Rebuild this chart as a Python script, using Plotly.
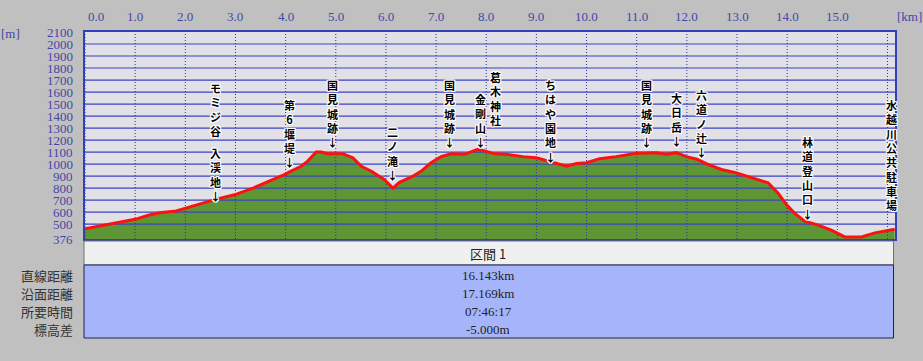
import plotly.graph_objects as go

# ---------------- data ----------------
km = [0.00, 0.20, 0.55, 1.00, 1.28, 1.49, 1.82, 2.02, 2.28, 2.62, 2.98, 3.35, 3.68, 3.94,
      4.08, 4.31, 4.44, 4.61, 4.71, 4.84, 5.14, 5.34, 5.51, 5.71, 5.97, 6.14, 6.27, 6.51,
      6.70, 6.90, 7.10, 7.30, 7.57, 7.83, 7.97, 8.17, 8.40, 8.73, 9.00, 9.23, 9.60, 9.80,
      10.00, 10.26, 10.59, 10.99, 11.39, 11.59, 11.79, 11.99, 12.20, 12.42, 12.69, 12.99,
      13.29, 13.62, 13.82, 13.99, 14.15, 14.35, 14.62, 14.88, 15.15, 15.48, 15.75, 16.01, 16.143]
elev = [462, 478, 506, 540, 576, 595, 609, 632, 666, 708, 744, 800, 856, 905,
        935, 982, 1025, 1100, 1100, 1086, 1086, 1053, 982, 940, 870, 800, 848, 893,
        940, 1011, 1062, 1086, 1081, 1123, 1109, 1085, 1081, 1062, 1053, 1025, 982, 1005,
        1011, 1045, 1062, 1090, 1095, 1081, 1095, 1062, 1040, 997, 955, 927,
        885, 843, 758, 660, 590, 525, 492, 449, 393, 393, 427, 449, 457]

x_ticks = [0, 1, 2, 3, 4, 5, 6, 7, 8, 9, 10, 11, 12, 13, 14, 15]
x_tick_text = ["0.0", "1.0", "2.0", "3.0", "4.0", "5.0", "6.0", "7.0", "8.0", "9.0",
               "10.0", "11.0", "12.0", "13.0", "14.0", "15.0"]
y_ticks = [2100, 2000, 1900, 1800, 1700, 1600, 1500, 1400, 1300, 1200, 1100, 1000,
           900, 800, 700, 600, 500, 376]
y_tick_text = ["2100", "2000", "1900", "1800", "1700", "1600", "1500", "1400", "1300",
               "1200", "1100", "1000", "900", "800", "700", "600", "500", "376"]
grid_y = [500, 600, 700, 800, 900, 1000, 1100, 1200, 1300, 1400, 1500, 1600, 1700,
          1800, 1900, 2000]
grid_x = [0, 1, 2, 3, 4, 5, 6, 7, 8, 9, 10, 11, 12, 13, 14, 15, 16]

wp_names = ["水越川公共駐車場", "モミジ谷 入渓地↓", "第6堰堤↓", "国見城跡↓", "二ノ滝↓",
            "国見城跡↓", "金剛山↓", "葛木神社", "ちはや園地↓", "国見城跡↓", "大日岳↓",
            "六道ノ辻↓", "林道登山口↓", "水越川公共駐車場"]
wp_km = [-0.07, 2.60, 4.08, 4.94, 6.14, 7.27, 7.88, 8.18, 9.29, 11.19, 11.79, 12.29,
         14.41, 16.08]
wp_top = [1492, 1651, 1506, 1674, 1283, 1674, 1557, 1739, 1674, 1674, 1567, 1590,
          1200, 1506]

table_header = "区間 1"
table_labels = ["直線距離", "沿面距離", "所要時間", "標高差"]
table_values = ["16.143km", "17.169km", "07:46:17", "-5.000m"]

X_MAX = 16.15
Y_MIN, Y_MAX = 376, 2100

# ---------------- layout helpers ----------------
W, H = 923, 361
L, R, T, B = 85, 28, 32, 122
PW, PH = W - L - R, H - T - B


def px(xp):
    return (xp - L) / PW


def py(yp):
    return (H - B - yp) / PH


GREEN = "#5e9636"
RED = "#ff1010"
GRID_BLUE = "#3b45c0"
AXIS_BLUE = "#3340b8"
LABEL_BLUE = "#4545a8"
SERIF = "Liberation Serif"
CJK = "Noto Sans CJK JP"
HALO = ("1px 1px 0 #fff, -1px -1px 0 #fff, 1px -1px 0 #fff, -1px 1px 0 #fff, "
        "0 1px 0 #fff, 0 -1px 0 #fff, 1px 0 0 #fff, -1px 0 0 #fff")

fig = go.Figure()

# filled profile
fig.add_trace(go.Scatter(x=km, y=elev, mode="lines", fill="tozeroy", fillcolor=GREEN,
                         line=dict(width=0, color=GREEN), hoverinfo="skip", showlegend=False))

# horizontal grid (drawn over the fill)
gx, gy = [], []
for v in grid_y:
    gx += [0, X_MAX, None]
    gy += [v, v, None]
fig.add_trace(go.Scatter(x=gx, y=gy, mode="lines", line=dict(color=GRID_BLUE, width=1.2),
                         hoverinfo="skip", showlegend=False))

# vertical dotted grid
vx, vy = [], []
for v in grid_x:
    vx += [v, v, None]
    vy += [Y_MIN, Y_MAX, None]
fig.add_trace(go.Scatter(x=vx, y=vy, mode="lines",
                         line=dict(color="#2a3690", width=1, dash="1px,2px"),
                         hoverinfo="skip", showlegend=False))

# red profile line
fig.add_trace(go.Scatter(x=km, y=elev, mode="lines", line=dict(color=RED, width=3),
                         hoverinfo="skip", showlegend=False))

annotations = []

# waypoint labels, written vertically (one line per character)
FS = 11
STEP = FS * 1.3
for name, xk, top in zip(wp_names, wp_km, wp_top):
    off = 0.0
    for part in name.split(" "):
        annotations.append(dict(x=xk, y=top, xref="x", yref="y", yshift=-off + 8,
                                text="<br>".join(part), showarrow=False,
                                xanchor="center", yanchor="top",
                                font=dict(family=CJK, size=FS, color="#000", shadow=HALO,
                                          weight=700)))
        off += STEP * (len(part) + 0.55)

# x tick labels (top)
for v, t in zip(x_ticks, x_tick_text):
    annotations.append(dict(x=v, y=1, xref="x", yref="paper", yshift=15.5,
                            xshift=11 if v == 0 else 0, text=t, showarrow=False,
                            xanchor="center", yanchor="middle",
                            font=dict(family=SERIF, size=13, color=LABEL_BLUE)))
# y tick labels
for v, t in zip(y_ticks, y_tick_text):
    annotations.append(dict(x=0, y=v, xref="paper", yref="y", xshift=-11, text=t,
                            showarrow=False, xanchor="right", yanchor="middle",
                            borderpad=0,
                            font=dict(family=SERIF, size=13, color=LABEL_BLUE)))
# units
annotations.append(dict(x=px(10), y=py(33), xref="paper", yref="paper", text="[m]",
                        showarrow=False, xanchor="center", yanchor="middle",
                        font=dict(family=SERIF, size=13, color=LABEL_BLUE)))
annotations.append(dict(x=px(909), y=py(16.5), xref="paper", yref="paper", text="[km]",
                        showarrow=False, xanchor="center", yanchor="middle",
                        font=dict(family=SERIF, size=13, color=LABEL_BLUE)))

# table
shapes = [
    dict(type="rect", xref="paper", yref="paper", x0=px(84), x1=px(893.5), y0=py(265),
         y1=py(241), fillcolor="#f0f0f0", line=dict(color="#707070", width=1), layer="above"),
    dict(type="rect", xref="paper", yref="paper", x0=px(84), x1=px(893.5), y0=py(338),
         y1=py(265), fillcolor="#a6b5fa", line=dict(color="#1c2450", width=1), layer="above"),
]
annotations.append(dict(x=px(488), y=py(253), xref="paper", yref="paper", text=table_header,
                        showarrow=False, xanchor="center", yanchor="middle",
                        font=dict(family=CJK, size=13, color="#222")))
row_y = [275.5, 293.5, 311, 329]
for lab, val, yy in zip(table_labels, table_values, row_y):
    annotations.append(dict(x=px(75), y=py(yy), xref="paper", yref="paper", text=lab,
                            showarrow=False, xanchor="right", yanchor="middle",
                            font=dict(family=CJK, size=13, color="#333")))
    annotations.append(dict(x=px(488), y=py(yy), xref="paper", yref="paper", text=val,
                            showarrow=False, xanchor="center", yanchor="middle",
                            font=dict(family=SERIF, size=13, color="#222")))

fig.update_layout(
    width=W, height=H,
    margin=dict(l=L, r=R, t=T, b=B, pad=0),
    paper_bgcolor="#c0c0c0",
    plot_bgcolor="#e0e0e6",
    showlegend=False,
    annotations=annotations,
    shapes=shapes,
    xaxis=dict(range=[0, X_MAX], showgrid=False, zeroline=False, showticklabels=False,
               ticks="", showline=True, mirror=True, linecolor=AXIS_BLUE, linewidth=2,
               fixedrange=True),
    yaxis=dict(range=[Y_MIN, Y_MAX], showgrid=False, zeroline=False, showticklabels=False,
               ticks="", showline=True, mirror=True, linecolor=AXIS_BLUE, linewidth=2,
               fixedrange=True),
)

fig.write_html("out.html", config={"displayModeBar": False},
               post_script="document.body.style.margin='0';"
                           "document.body.style.background='#c0c0c0';")
